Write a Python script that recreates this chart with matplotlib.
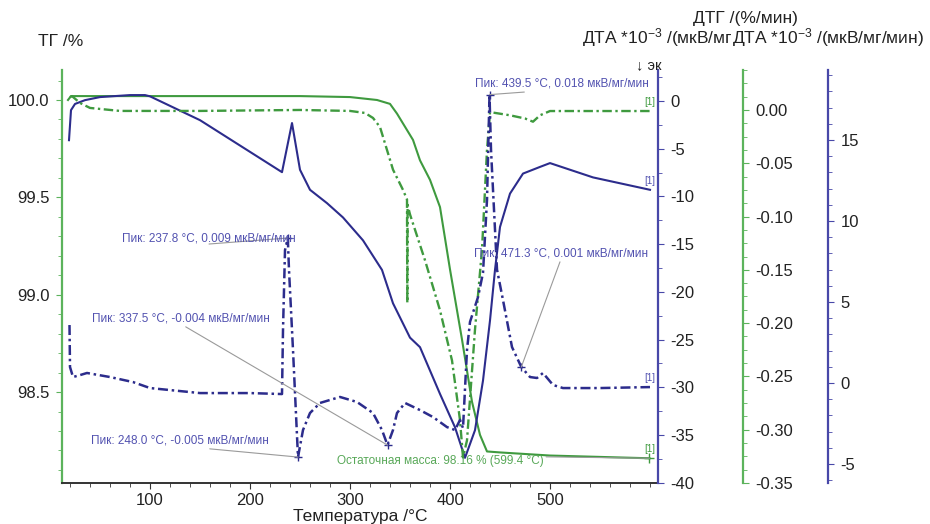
import matplotlib
matplotlib.use("Agg")
import matplotlib.pyplot as plt
from matplotlib.ticker import MultipleLocator, FixedLocator, FormatStrFormatter

plt.rcParams['font.family'] = ['Liberation Sans', 'DejaVu Sans']
plt.rcParams['mathtext.fontset'] = 'custom'
plt.rcParams['mathtext.rm'] = 'Liberation Sans'
plt.rcParams['mathtext.it'] = 'Liberation Sans:italic'
plt.rcParams['axes.unicode_minus'] = False

# ---- data ----
# TG, % (left axis)
tg_t = [18, 21, 60, 150, 250, 300, 327, 340, 347, 363, 370, 380, 390, 400, 412, 422, 430, 437, 450, 500, 599.4]
tg_v = [100.00, 100.02, 100.02, 100.02, 100.02, 100.015, 100.00, 99.98, 99.93, 99.795, 99.69,
        99.59, 99.45, 99.13, 98.77, 98.45, 98.28, 98.195, 98.19, 98.174, 98.16]

# DTG, %/min
dtg_t = [20, 22, 30, 40, 70, 150, 250, 300, 315, 323, 330, 343, 353, 357, 357.3, 357.6, 360, 375,
         390, 402, 410, 413, 417, 425, 432, 437, 440, 460, 475, 483, 490, 500, 600]
dtg_v = [0.012, 0.013, 0.0066, 0.0019, -0.0009, -0.0009, 0.0, -0.0009, -0.0028, -0.0075, -0.016,
         -0.056, -0.075, -0.084, -0.181, -0.089, -0.098, -0.141, -0.188, -0.235, -0.291, -0.326,
         -0.31, -0.206, -0.131, -0.0375, -0.002, -0.005, -0.008, -0.011, -0.005, -0.001, -0.001]

# DTA (solid), inner right axis
dta1_t = [19, 21, 25, 35, 50, 80, 95, 100, 150, 232, 242, 250, 260, 277, 293, 313, 332, 343, 360,
          370, 390, 405, 415, 425, 433, 440, 445, 450, 460, 473, 490, 500, 543, 600]
dta1_v = [-4.1, -0.95, -0.3, 0.1, 0.42, 0.63, 0.63, 0.5, -2.0, -7.45, -2.3, -7.2, -9.3, -10.7,
          -12.2, -14.6, -17.7, -21.2, -24.8, -25.8, -30.7, -34.2, -37.4, -34.5, -29.3, -23.0,
          -17.7, -13.2, -9.7, -7.6, -6.9, -6.5, -8.0, -9.3]

# DTA (dash-dot), outer right axis
dta2_t = [19.5, 20, 23, 30, 37, 60, 83, 100, 150, 200, 232, 233, 235, 237.8, 239, 243, 248, 253,
          260, 270, 290, 307, 323, 332, 337.5, 343, 347, 355, 370, 383, 397, 405, 410, 413, 417,
          420, 428, 433, 437, 439.5, 441, 444, 447, 453, 462, 471.3, 480, 487, 493, 503, 513, 550, 600]
dta2_v = [3.58, 0.99, 0.37, 0.49, 0.62, 0.37, 0.06, -0.31, -0.62, -0.62, -0.68, 3.27, 8.2, 8.95,
          6.98, 2.04, -4.57, -2.9, -1.85, -1.23, -0.86, -1.17, -1.85, -2.9, -3.83, -2.9, -1.85,
          -1.23, -1.67, -2.1, -2.72, -2.9, -2.28, -2.78, 2.04, 3.77, 5.3, 6.8, 11.3, 17.8, 14.4,
          10.7, 7.0, 5.12, 2.22, 0.99, 0.37, 0.31, 0.62, -0.12, -0.31, -0.31, -0.25]

# peak annotations (DTA dash-dot)
peak_t = [237.8, 248.0, 337.5, 439.5, 471.3]
peak_v = [8.95, -4.57, -3.83, 17.8, 0.99]
peak_text = ['Пик: 237.8 °C, 0.009 мкВ/мг/мин',
             'Пик: 248.0 °C, -0.005 мкВ/мг/мин',
             'Пик: 337.5 °C, -0.004 мкВ/мг/мин',
             'Пик: 439.5 °C, 0.018 мкВ/мг/мин',
             'Пик: 471.3 °C, 0.001 мкВ/мг/мин']
peak_text_xy = [(159, 8.95), (130, -3.52), (131, 4.01), (512, 18.5), (511, 8.02)]

x_major = [100, 200, 300, 400, 500]

green = '#3f9a3f'
green_sp = '#5cb35c'
blue = '#2c2c8c'
blue_sp = '#4848a8'
blue_txt = '#5252b0'

fig = plt.figure(figsize=(9.3, 5.24), dpi=100)
W, H = 930, 524
ax = fig.add_axes([62 / W, 1 - 483 / H, (658 - 62) / W, (483 - 70) / H])
ax_d1 = ax.twinx()
ax_dtg = ax.twinx()
ax_d2 = ax.twinx()

ax.set_xlim(12, 608)
ax.set_ylim(98.033, 100.154)
ax_d1.set_ylim(-40.04, 3.26)
ax_dtg.set_ylim(-0.35, 0.0375)
ax_d2.set_ylim(-6.17, 19.32)

# curves
ax.plot(tg_t, tg_v, color=green, lw=1.5)
ax.plot(tg_t[-1], tg_v[-1], marker='+', color=green, ms=7, mew=1)
ax_dtg.plot(dtg_t, dtg_v, color=green, lw=1.7, ls=(0, (4, 1.5, 1, 1.5)))
ax_d1.plot(dta1_t, dta1_v, color=blue, lw=1.5)
ax_d2.plot(dta2_t, dta2_v, color=blue, lw=1.8, ls=(0, (4, 1.5, 1, 1.5)))
ax_d2.plot(peak_t, peak_v, ls='none', marker='+', color=blue, ms=6, mew=1)

# spines
for a in (ax, ax_d1, ax_dtg, ax_d2):
    for s in a.spines.values():
        s.set_visible(False)
ax.spines['left'].set_visible(True)
ax.spines['left'].set_color(green_sp)
ax.spines['left'].set_linewidth(1.6)
ax.spines['bottom'].set_visible(True)
ax.spines['bottom'].set_color('#333333')
ax.spines['bottom'].set_linewidth(1.4)
ax_d1.spines['right'].set_visible(True)
ax_d1.spines['right'].set_color(blue_sp)
ax_d1.spines['right'].set_linewidth(1.6)
ax_dtg.spines['right'].set_visible(True)
ax_dtg.spines['right'].set_position(('axes', (743 - 62) / 596))
ax_dtg.spines['right'].set_color(green_sp)
ax_dtg.spines['right'].set_linewidth(1.6)
ax_d2.spines['right'].set_visible(True)
ax_d2.spines['right'].set_position(('axes', (828 - 62) / 596))
ax_d2.spines['right'].set_color(blue_sp)
ax_d2.spines['right'].set_linewidth(1.6)

# ticks
ax.xaxis.set_major_locator(FixedLocator(x_major))
ax.xaxis.set_minor_locator(MultipleLocator(20))
ax.yaxis.set_major_locator(MultipleLocator(0.5))
ax.yaxis.set_minor_locator(MultipleLocator(0.1))
ax.yaxis.set_major_formatter(FormatStrFormatter('%.1f'))
ax_d1.yaxis.set_major_locator(MultipleLocator(5))
ax_d1.yaxis.set_minor_locator(MultipleLocator(2.5))
ax_dtg.yaxis.set_major_locator(MultipleLocator(0.05))
ax_dtg.yaxis.set_minor_locator(MultipleLocator(0.0125))
ax_dtg.yaxis.set_major_formatter(FormatStrFormatter('%.2f'))
ax_d2.yaxis.set_major_locator(MultipleLocator(5))
ax_d2.yaxis.set_minor_locator(MultipleLocator(1))

ax.tick_params(axis='x', which='both', direction='out', colors='#333333', labelcolor='#222222',
               labelsize=12, pad=3)
ax.tick_params(axis='x', which='major', length=4)
ax.tick_params(axis='x', which='minor', length=3)
for a, c in ((ax, green_sp), (ax_d1, blue_sp), (ax_dtg, green_sp), (ax_d2, blue_sp)):
    a.tick_params(axis='y', which='both', direction='out', colors=c, labelcolor='#222222',
                  labelsize=12, pad=5)
    a.tick_params(axis='y', which='major', length=4)
    a.tick_params(axis='y', which='minor', length=3)

ax.set_xlabel('Температура /°C', fontsize=12.5, labelpad=1, color='#222222')

# headers
fig.text(38 / W, 1 - 41 / H, 'ТГ /%', fontsize=12.5, ha='left', va='center', color='#222222')
fig.text(745 / W, 1 - 18 / H, 'ДТГ /(%/мин)', fontsize=12.5, ha='center', va='center', color='#222222')
fig.text(582 / W, 1 - 38 / H, r'ДТА *$10^{-3}$ /(мкВ/мг/мин)', fontsize=12.5, ha='left',
         va='center', color='#222222')
fig.text(732 / W, 1 - 38 / H, r'ДТА *$10^{-3}$ /(мкВ/мг/мин)', fontsize=12.5, ha='left',
         va='center', color='#222222',
         bbox=dict(facecolor='white', edgecolor='none', pad=0.5))
ax_d2.text(611, 1 + 5 / 413, '↓ эк', transform=ax_d2.get_xaxis_transform(), fontsize=10.5,
           ha='right', va='center', color='#222222')

# peak labels
for t, v, txt, xy in zip(peak_t, peak_v, peak_text, peak_text_xy):
    ax_d2.annotate(txt, xy=(t, v), xytext=xy, fontsize=8.5, color=blue_txt,
                   ha='center', va='center',
                   arrowprops=dict(arrowstyle='-', color='#9a9a9a', lw=0.8,
                                   shrinkA=0, shrinkB=0, relpos=(0.5, 0)))

ax.annotate('Остаточная масса: 98.16 % (599.4 °C)', xy=(tg_t[-1], tg_v[-1]), xytext=(390, 98.144),
            fontsize=8.5, color='#58a858', ha='center', va='center',
            arrowprops=dict(arrowstyle='-', color='#9a9a9a', lw=0.8, shrinkA=0, shrinkB=0,
                            relpos=(0.5, 1)))

# [1] curve tags
for a, tt, vv, c in ((ax_dtg, dtg_t, dtg_v, green), (ax_d1, dta1_t, dta1_v, blue_txt),
                     (ax_d2, dta2_t, dta2_v, blue_txt), (ax, tg_t, tg_v, green)):
    a.annotate('[1]', xy=(tt[-1], vv[-1]), xytext=(4, 3), textcoords='offset points',
               ha='right', va='bottom', fontsize=7, color=c)

plt.savefig('out.png', dpi=100)
